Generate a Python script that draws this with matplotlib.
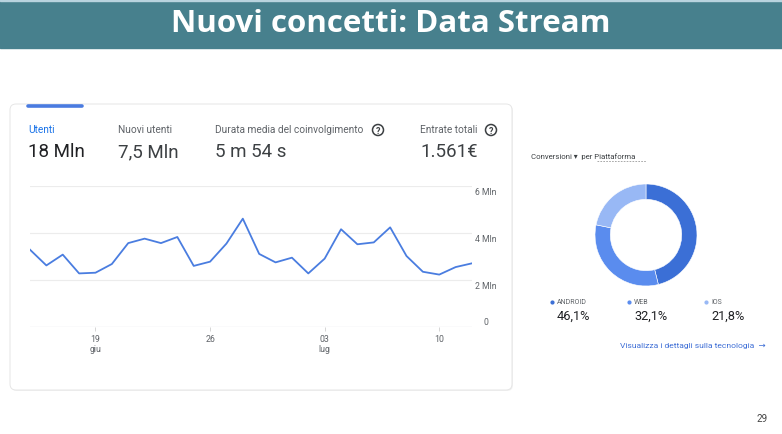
import numpy as np
import matplotlib
matplotlib.use('Agg')
import matplotlib.pyplot as plt
from matplotlib.patches import FancyBboxPatch, Rectangle, Circle

## DATA
utenti = [3.29, 2.62, 3.08, 2.28, 2.31, 2.68, 3.57, 3.76, 3.57, 3.83,
          2.60, 2.78, 3.55, 4.61, 3.11, 2.75, 2.95, 2.28, 2.91, 4.16,
          3.52, 3.60, 4.24, 3.02, 2.35, 2.23, 2.55, 2.71]
tick_idx = [4, 11, 18, 25]
tick_labels = ['19\ngiu', '26', '03\nlug', '10']
y_ticks = [0, 2, 4, 6]
y_labels = ['0', '2 Mln', '4 Mln', '6 Mln']

metric_names = ['Utenti', 'Nuovi utenti', 'Durata media del coinvolgimento', 'Entrate totali']
metric_values = ['18 Mln', '7,5 Mln', '5 m 54 s', '1.561€']

platforms = ['ANDROID', 'WEB', 'IOS']
shares = [46.1, 32.1, 21.8]
share_labels = ['46,1%', '32,1%', '21,8%']
donut_colors = ['#3b6fd6', '#5a8cee', '#98b8f5']

W, H = 782, 435
FONT = ['Roboto', 'DejaVu Sans']
GREY = '#5f6368'

fig = plt.figure(figsize=(W / 100, H / 100), dpi=100)

## background axes in pixel coords
bg = fig.add_axes([0, 0, 1, 1])
bg.set_xlim(0, W)
bg.set_ylim(H, 0)
bg.axis('off')

# header band
bg.add_patch(Rectangle((0, 0), W, 49, color='#47808d', zorder=1))
bg.add_patch(Rectangle((0, 0), W, 2, color='#b9d3de', zorder=2))
bg.text(W / 2, 24, 'Nuovi concetti: Data Stream', color='white', fontsize=22.5,
        fontweight='bold', family=['Open Sans', 'DejaVu Sans'], ha='center', va='center', zorder=3)

# card
bg.add_patch(FancyBboxPatch((11, 106), 502, 286, boxstyle='round,pad=0,rounding_size=6',
                            fc='#f1f1f1', ec='none', zorder=1))
bg.add_patch(FancyBboxPatch((10, 105), 502, 286, boxstyle='round,pad=0,rounding_size=6',
                            fc='white', ec='#e6e6e6', lw=0.7, zorder=2))
bg.plot([28, 82], [106.5, 106.5], color='#4a7be0', lw=2.6, solid_capstyle='round', zorder=3)

# metrics
mx = [28, 118, 215, 420]
for i, (name, val) in enumerate(zip(metric_names, metric_values)):
    col = '#1a73e8' if i == 0 else GREY
    bg.text(mx[i], 130, name, color=col, fontsize=7.3, family=FONT, va='center', zorder=3)
    bg.text(mx[i], 152, val, color='#202124' if i == 0 else '#3c4043', fontsize=13.5,
            family=FONT, va='center', zorder=3)
for cx in [378, 491]:
    bg.add_patch(Circle((cx, 131), 5.5, fc='white', ec='#3c4043', lw=1.1, zorder=3))
    bg.text(cx, 131.5, '?', fontsize=6.5, fontweight='bold', color='#3c4043',
            family=FONT, ha='center', va='center', zorder=4)

## line chart
x0, x1, y0, y1 = 30, 472, 328, 187
ax = fig.add_axes([x0 / W, 1 - y0 / H, (x1 - x0) / W, (y0 - y1) / H])
ax.patch.set_alpha(0)
x = np.arange(len(utenti))
ax.plot(x, utenti, color='#4a7de0', lw=1.3, zorder=3)
ax.set_xlim(0, len(utenti) - 1)
ax.set_ylim(0, 6)
for yv in y_ticks[1:]:
    ax.axhline(yv, color='#ececec', lw=0.8, zorder=1)
ax.axhline(0, color='#dadce0', lw=0.9, zorder=1)
for s in ax.spines.values():
    s.set_visible(False)
ax.set_yticks([])
ax.set_xticks(tick_idx)
ax.set_xticklabels(tick_labels, fontsize=6.3, color=GREY, family=FONT, linespacing=1.1)
ax.tick_params(axis='x', length=3, width=0.6, color='#cfcfcf', pad=2)
for yv, lab in zip(y_ticks, y_labels):
    off = 5 if yv == 0 else -6
    bg.text(486, y0 - yv * (y0 - y1) / 6 - off, lab, fontsize=6.2, color=GREY,
            family=FONT, ha='center', va='center', zorder=3)

## donut
cx, cy, R = 646, 236, 51
dax = fig.add_axes([(cx - R) / W, 1 - (cy + R) / H, 2 * R / W, 2 * R / H])
dax.pie(shares, colors=donut_colors, startangle=90, counterclock=False, radius=1,
        wedgeprops=dict(width=0.3, edgecolor='white', linewidth=0.4))
dax.set_xlim(-1, 1)
dax.set_ylim(-1, 1)
dax.set_aspect('equal')

bg.text(531, 157, 'Conversioni ▾  per Piattaforma', fontsize=5.6, color='#3c4043',
        family=FONT, va='center', zorder=3)
bg.plot([597, 646], [162, 162], color='#9a9a9a', lw=0.6, ls=(0, (2, 1.5)), zorder=3)

lx = [552, 629, 706]
for i, (p, lab) in enumerate(zip(platforms, share_labels)):
    bg.plot(lx[i], 303, 'o', ms=2, color=donut_colors[i], zorder=3)
    bg.text(lx[i] + 5, 303, p, fontsize=5, color=GREY, family=FONT, va='center', zorder=3)
    bg.text(lx[i] + 5, 316.5, lab, fontsize=9.2, color='#202124', family=FONT, va='center', zorder=3)

bg.text(620, 346, 'Visualizza i dettagli sulla tecnologia  →', fontsize=6.1, color='#3f6fd6',
        family=FONT, va='center', zorder=3)

bg.text(762, 419, '29', fontsize=7, color='#444444', family=FONT, ha='center', va='center')

fig.savefig('out.png', dpi=100)
